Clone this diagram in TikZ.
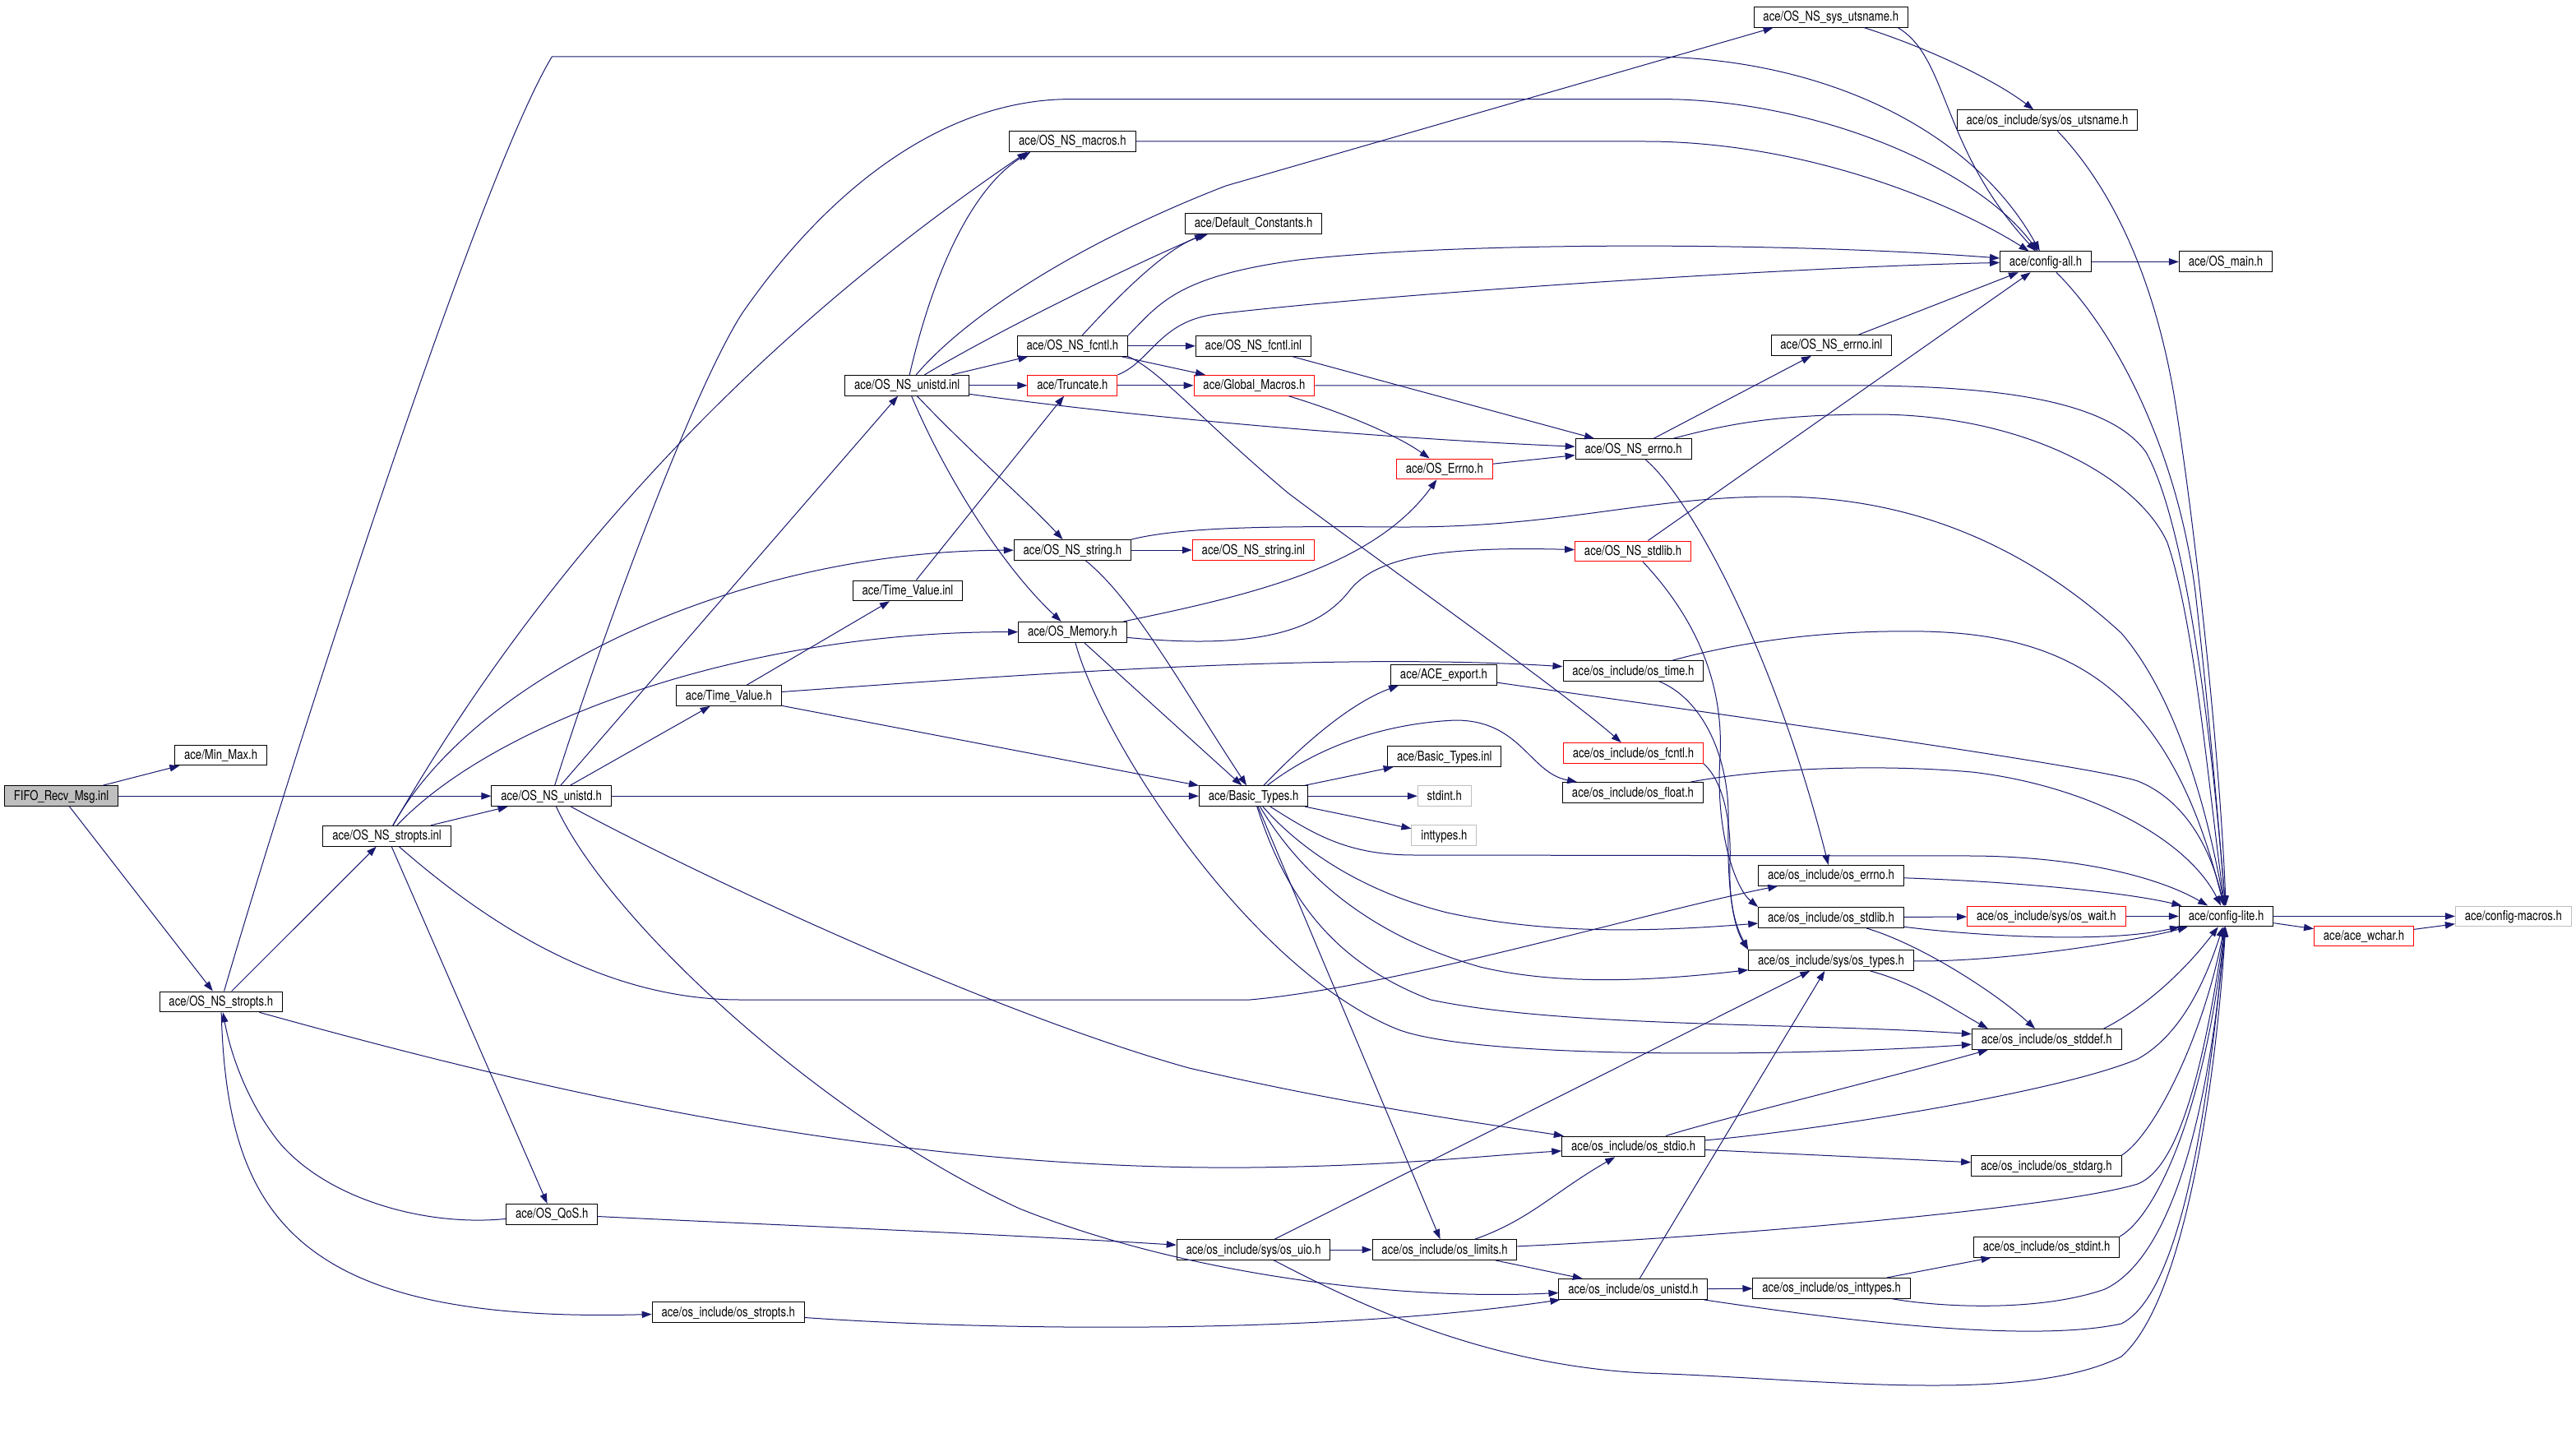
\documentclass[tikz,border=0pt]{standalone}
\usepackage{fontspec}
\usepackage{tikz}
\usetikzlibrary{arrows.meta}
\newfontfamily\doxfont{TeX Gyre Heros}[FakeStretch=0.8]
\def\doxtext{\doxfont\fontsize{8.2}{9}\selectfont}
\definecolor{edgeblue}{HTML}{191970}
\definecolor{extgray}{HTML}{BFBFBF}
\definecolor{rootgray}{HTML}{BFBFBF}
\tikzset{
	hdr/.style={draw=black, fill=white, line width=0.5pt, minimum height=12.4pt, inner xsep=5.7pt, inner ysep=0pt, text height=6.2pt, text depth=1.2pt, font=\doxtext},
	hdrcut/.style={hdr, draw=red},
	hdrext/.style={hdr, draw=extgray},
	hdrroot/.style={hdr, fill=rootgray},
	incl/.style={draw=edgeblue, line width=0.5pt, -{Triangle[length=6pt,width=4.2pt]}}
}

\begin{document}
\begin{tikzpicture}[x=1pt, y=-1pt]
			%%%%% START %%%%%
			\path[use as bounding box, fill=white] (0,0) rectangle (1566.5,874.5);
			
			\node[hdrroot] (fifo) at (37.3,484.1) {FIFO\_Recv\_Msg.inl};
			\node[hdr] (minmax) at (134.3,459.2) {ace/Min\_Max.h};
			\node[hdr] (nsunistdh) at (335.3,484.1) {ace/OS\_NS\_unistd.h};
			\node[hdr] (nsstroptsinl) at (235.3,508.4) {ace/OS\_NS\_stropts.inl};
			\node[hdr] (nsstroptsh) at (134.4,609.2) {ace/OS\_NS\_stropts.h};
			\node[hdr] (qos) at (335.6,738.4) {ace/OS\_QoS.h};
			\node[hdr] (osstropts) at (442.9,798) {ace/os\_include/os\_stropts.h};
			
			\node[hdr] (nsunistdinl) at (551.6,234.4) {ace/OS\_NS\_unistd.inl};
			\node[hdr] (nsmacros) at (652.2,86) {ace/OS\_NS\_macros.h};
			\node[hdr] (defconst) at (762.3,136) {ace/Default\_Constants.h};
			\node[hdr] (nsfcntlh) at (652.2,210.4) {ace/OS\_NS\_fcntl.h};
			\node[hdrcut] (truncate) at (652.2,234.4) {ace/Truncate.h};
			\node[hdr] (nsfcntlinl) at (762.2,210.4) {ace/OS\_NS\_fcntl.inl};
			\node[hdrcut] (globmacros) at (762.7,234.4) {ace/Global\_Macros.h};
			\node[hdr] (tvinl) at (552,359.2) {ace/Time\_Value.inl};
			\node[hdr] (nsstringh) at (652.2,334.5) {ace/OS\_NS\_string.h};
			\node[hdrcut] (nsstringinl) at (762.2,334.5) {ace/OS\_NS\_string.inl};
			\node[hdr] (memory) at (652.2,384.4) {ace/OS\_Memory.h};
			\node[hdr] (tvh) at (443.2,423) {ace/Time\_Value.h};
			\node[hdr] (bth) at (762.3,484.1) {ace/Basic\_Types.h};
			
			\node[hdr] (export) at (878,410.4) {ace/ACE\_export.h};
			\node[hdr] (btinl) at (878.4,460) {ace/Basic\_Types.inl};
			\node[hdrext] (stdint) at (878.4,484.1) {stdint.h};
			\node[hdrext] (inttypes) at (878.2,508) {inttypes.h};
			\node[hdrcut] (oserrno) at (878.4,285.2) {ace/OS\_Errno.h};
			\node[hdr] (nserrnoh) at (993.3,273.1) {ace/OS\_NS\_errno.h};
			\node[hdr] (nserrnoinl) at (1113.7,210) {ace/OS\_NS\_errno.inl};
			\node[hdr] (nsutsname) at (1113.4,10.4) {ace/OS\_NS\_sys\_utsname.h};
			\node[hdr] (osutsname) at (1245,73.2) {ace/os\_include/sys/os\_utsname.h};
			\node[hdr] (configall) at (1244,159.2) {ace/config-all.h};
			\node[hdr] (osmain) at (1353.5,159.2) {ace/OS\_main.h};
			\node[hdrcut] (nsstdlibh) at (993,335.2) {ace/OS\_NS\_stdlib.h};
			\node[hdr] (ostime) at (993.2,408) {ace/os\_include/os\_time.h};
			\node[hdrcut] (osfcntl) at (993.2,458) {ace/os\_include/os\_fcntl.h};
			\node[hdr] (osfloat) at (993,482) {ace/os\_include/os\_float.h};
			
			\node[hdr] (oserrnoh) at (1113.5,532.4) {ace/os\_include/os\_errno.h};
			\node[hdr] (osstdlib) at (1113.5,558) {ace/os\_include/os\_stdlib.h};
			\node[hdr] (ostypes) at (1113.5,584) {ace/os\_include/sys/os\_types.h};
			\node[hdrcut] (oswait) at (1244.4,557.2) {ace/os\_include/sys/os\_wait.h};
			\node[hdr] (configlite) at (1353.8,557.2) {ace/config-lite.h};
			\node[hdrcut] (wchar) at (1437.5,569.2) {ace/ace\_wchar.h};
			\node[hdrext] (configmacros) at (1528.4,557.2) {ace/config-macros.h};
			\node[hdr] (osstddef) at (1244.6,632) {ace/os\_include/os\_stddef.h};
			\node[hdr] (osstdio) at (993.3,697.2) {ace/os\_include/os\_stdio.h};
			\node[hdr] (osstdarg) at (1244.4,709) {ace/os\_include/os\_stdarg.h};
			\node[hdr] (osuio) at (762.3,760) {ace/os\_include/sys/os\_uio.h};
			\node[hdr] (oslimits) at (878.5,760) {ace/os\_include/os\_limits.h};
			\node[hdr] (osunistd) at (993.2,784) {ace/os\_include/os\_unistd.h};
			\node[hdr] (osinttypes) at (1113.8,783.4) {ace/os\_include/os\_inttypes.h};
			\node[hdr] (osstdint) at (1244.5,758.4) {ace/os\_include/os\_stdint.h};
			
			\draw[incl] (fifo) -- (minmax);
			\draw[incl] (fifo) -- (nsunistdh);
			\draw[incl] (fifo) -- (nsstroptsh);
			
			\draw[incl] (nsstroptsh) -- (nsstroptsinl);
			\draw[incl] (nsstroptsh) .. controls (175,470) and (290,110) .. (335.7,34.4) -- (1000,34.4) .. controls (1110,34.4) and (1200,80) .. (configall);
			\draw[incl] (nsstroptsh) .. controls (300,655) and (520,712) .. (760,710) .. controls (850,709) and (900,703) .. (osstdio);
			\draw[incl] (nsstroptsh) .. controls (138,740) and (180,805) .. (osstropts);
			\draw[incl] (qos) .. controls (260,746) and (200,730) .. (170,695) .. controls (150,670) and (140,640) .. (nsstroptsh);
			\draw[incl] (qos) .. controls (450,744) and (600,750) .. (osuio);
			
			\draw[incl] (nsstroptsinl) -- (nsunistdh);
			\draw[incl] (nsstroptsinl) -- (qos);
			\draw[incl] (nsstroptsinl) .. controls (300,565) and (370,608) .. (450,608) -- (760,608) .. controls (850,600) and (1000,555) .. (oserrnoh);
			\draw[incl] (nsstroptsinl) .. controls (331.7,340.7) and (460.3,204.1) .. ([xshift=11pt]nsmacros.south west);
			\draw[incl] (nsstroptsinl) .. controls (290,410) and (450,335) .. (nsstringh);
			\draw[incl] (nsstroptsinl) .. controls (300,440) and (450,384) .. (memory);
			
			\draw[incl] (nsunistdh) -- (nsunistdinl);
			\draw[incl] (nsunistdh) -- (tvh);
			\draw[incl] (nsunistdh) -- (bth);
			\draw[incl] (nsunistdh) .. controls (365,390) and (420,240) .. (451,191) .. controls (500,120) and (570,60.3) .. (651.3,60.3) -- (1010,60.3) .. controls (1100,60.3) and (1200,100) .. (configall);
			\draw[incl] (nsunistdh) .. controls (420,530) and (600,615) .. (723,649.5) .. controls (820,672) and (900,683) .. (osstdio);
			\draw[incl] (nsunistdh) .. controls (370,560) and (500,680) .. (620,735) .. controls (720,775) and (850,791) .. (osunistd);
			
			\draw[incl] (nsunistdinl) .. controls (569.6,156.6) and (594.9,111.4) .. ([xshift=13pt]nsmacros.south west);
			\draw[incl] (nsunistdinl) .. controls (600,205) and (680,165) .. ([xshift=12pt]defconst.south west);
			\draw[incl] (nsunistdinl) .. controls (585,195) and (650,150) .. (745.5,113) -- ([xshift=12pt]nsutsname.south west);
			\draw[incl] (nsunistdinl) -- (nsfcntlh);
			\draw[incl] (nsunistdinl) -- (truncate);
			\draw[incl] (nsunistdinl) .. controls (700,255) and (850,267) .. (nserrnoh);
			\draw[incl] (nsunistdinl) .. controls (575,290) and (610,345) .. (memory);
			\draw[incl] (nsunistdinl) .. controls (590,275) and (625,305) .. (nsstringh);
			
			\draw[incl] (nsmacros) -- (1000,86) .. controls (1100,86) and (1190,125) .. (configall);
			\draw[incl] (nsfcntlh) .. controls (680,180) and (710,150) .. ([xshift=14pt]defconst.south west);
			\draw[incl] (nsfcntlh) -- (nsfcntlinl);
			\draw[incl] (nsfcntlh) -- (globmacros);
			\draw[incl] (nsfcntlh.north east) .. controls (705,185) and (715,168) .. (790,158) .. controls (900,146) and (1100,148) .. (configall);
			\draw[incl] (nsfcntlh.south east) .. controls (705,225) and (730,255) .. (783.5,300) .. controls (830,335) and (950,420) .. (osfcntl);
			\draw[incl] (truncate) -- (globmacros);
			\draw[incl] (truncate.north east) .. controls (700,220) and (705,195) .. (740,191) .. controls (850,178) and (1100,162) .. (configall);
			\draw[incl] (globmacros) .. controls (820,252) and (850,265) .. (oserrno);
			\draw[incl] (globmacros) -- (1120,234.4) .. controls (1200,234.4) and (1280,240) .. (1305,275) .. controls (1330,320) and (1345,450) .. (configlite);
			\draw[incl] (nsfcntlinl) -- (nserrnoh);
			\draw[incl] (oserrno) -- (nserrnoh);
			
			\draw[incl] (nserrnoh) -- (nserrnoinl);
			\draw[incl] (nserrnoh) .. controls (1050,258) and (1080,252) .. (1140,252) .. controls (1230,252) and (1300,290) .. (1318,330) .. controls (1335,380) and (1343,480) .. (configlite);
			\draw[incl] (nserrnoh) .. controls (1030,305) and (1080,400) .. (oserrnoh);
			\draw[incl] (nserrnoinl) -- (configall);
			\draw[incl] (nsutsname.-9) .. controls (1185,35) and (1180,90) .. (configall);
			\draw[incl] (nsutsname) .. controls (1175,30) and (1215,50) .. (osutsname);
			\draw[incl] (osutsname) .. controls (1285,115) and (1310,170) .. (1322,240) .. controls (1335,320) and (1350,460) .. (configlite);
			\draw[incl] (configall) -- (osmain);
			\draw[incl] (configall) .. controls (1290,205) and (1325,280) .. (1335,360) .. controls (1343,430) and (1349,500) .. (configlite);
			
			\draw[incl] (nsstringh) -- (nsstringinl);
			\draw[incl] (nsstringh) .. controls (690,365) and (720,420) .. (bth);
			\draw[incl] (nsstringh.north east) .. controls (720,320) and (780,320) .. (850,320.5) .. controls (950,321) and (1000,302) .. (1080,302) .. controls (1160,302) and (1230,330) .. (1290,385) .. controls (1320,420) and (1340,480) .. (configlite);
			\draw[incl] (memory) .. controls (760,362) and (835,345) .. (oserrno);
			\draw[incl] (memory) .. controls (760,395) and (800,385) .. (820,360) .. controls (835,340) and (870,332) .. (nsstdlibh);
			\draw[incl] (memory) -- (bth);
			\draw[incl] (memory) .. controls (670,450) and (760,590) .. (850,626) .. controls (900,645) and (1100,642) .. (osstddef);
			\draw[incl] (tvh) -- (tvinl);
			\draw[incl] (tvh) .. controls (600,412) and (800,396) .. (ostime);
			\draw[incl] (tvh) -- (bth);
			\draw[incl] (tvinl) -- (truncate);
			
			\draw[incl] (bth) .. controls (790,455) and (820,428) .. ([xshift=5pt]export.south west);
			\draw[incl] (bth) -- (btinl);
			\draw[incl] (bth) -- (stdint);
			\draw[incl] (bth) -- (inttypes);
			\draw[incl] (bth) .. controls (800,455) and (840,440) .. (885,438) .. controls (925,438) and (930,470) .. ([xshift=9pt]osfloat.north west);
			\draw[incl] (bth) .. controls (800,508) and (820,520) .. (860,520) -- (1200,520.5) .. controls (1260,521) and (1310,532) .. (configlite);
			\draw[incl] (bth) .. controls (785,510) and (820,540) .. (880,555) .. controls (940,568) and (1000,567) .. (osstdlib);
			\draw[incl] (bth) .. controls (790,530) and (830,568) .. (900,588) .. controls (950,600) and (1010,596) .. (ostypes);
			\draw[incl] (bth) .. controls (782,545) and (810,585) .. (870,608) .. controls (950,625) and (1100,622) .. (osstddef);
			\draw[incl] (bth) -- (oslimits);
			
			\draw[incl] (nsstdlibh) -- (configall);
			\draw[incl] (nsstdlibh) .. controls (1035,380) and (1048,420) .. (1046,460) .. controls (1043,505) and (1055,540) .. (osstdlib.north west);
			\draw[incl] (ostime) .. controls (1035,425) and (1052,460) .. (1051,500) .. controls (1050,545) and (1055,565) .. (ostypes.north west);
			\draw[incl] (ostime) .. controls (1060,390) and (1110,383) .. (1170,384) .. controls (1260,386) and (1320,420) .. (configlite);
			\draw[incl] (osfcntl.south east) .. controls (1048,475) and (1053,500) .. (1052,525) .. controls (1051,555) and (1058,568) .. (ostypes.north west);
			\draw[incl] (export) .. controls (1000,428) and (1270,465) .. (1300,475) .. controls (1325,485) and (1343,510) .. (configlite);
			\draw[incl] (osfloat) .. controls (1080,466) and (1150,465) .. (1200,469.6) .. controls (1270,478) and (1330,510) .. (configlite);
			
			\draw[incl] (oserrnoh) .. controls (1220,536) and (1290,542) .. (configlite);
			\draw[incl] (osstdlib) -- (oswait);
			\draw[incl] (osstdlib) .. controls (1200,569) and (1280,574) .. (configlite);
			\draw[incl] (osstdlib) .. controls (1170,575) and (1215,605) .. (osstddef);
			\draw[incl] (oswait) -- (configlite);
			\draw[incl] (ostypes) .. controls (1220,585) and (1300,572) .. (configlite);
			\draw[incl] (ostypes) .. controls (1165,598) and (1185,612) .. ([xshift=10pt]osstddef.north west);
			\draw[incl] ([xshift=-11pt]osstddef.north east) .. controls (1300,615) and (1325,595) .. (configlite);
			\draw[incl] (configlite) -- (configmacros);
			\draw[incl] (configlite) -- (wchar);
			\draw[incl] (wchar) -- (configmacros);
			
			\draw[incl] (osstdio) .. controls (1040,682) and (1150,655) .. ([xshift=10pt]osstddef.south west);
			\draw[incl] (osstdio) .. controls (1100,688) and (1250,665) .. (1300,644) .. controls (1325,630) and (1340,600) .. (configlite);
			\draw[incl] (osstdio) -- (osstdarg);
			\draw[incl] (osstdarg.north east) .. controls (1310,690) and (1340,630) .. (configlite);
			\draw[incl] (osuio) -- (oslimits);
			\draw[incl] (osuio) -- (ostypes);
			\draw[incl] (osuio) .. controls (820,790) and (900,830) .. (1000,835) .. controls (1100,838) and (1230,855) .. (1290,825) .. controls (1330,790) and (1348,650) .. (configlite);
			\draw[incl] (oslimits) .. controls (930,742) and (945,725) .. (osstdio);
			\draw[incl] (oslimits) .. controls (1050,752) and (1250,735) .. (1300,720) .. controls (1325,710) and (1340,650) .. (configlite);
			\draw[incl] (oslimits) -- (osunistd);
			\draw[incl] (osstropts) .. controls (600,809) and (800,812) .. (osunistd);
			\draw[incl] (osunistd) -- (ostypes);
			\draw[incl] (osunistd) -- (osinttypes);
			\draw[incl] (osunistd) .. controls (1100,800) and (1230,818) .. (1290,805) .. controls (1330,785) and (1345,650) .. (configlite);
			\draw[incl] (osinttypes) -- (osstdint);
			\draw[incl] (osinttypes) .. controls (1180,795) and (1240,798) .. (1280,784) .. controls (1320,765) and (1343,680) .. (configlite);
			\draw[incl] (osstdint.north east) .. controls (1310,740) and (1340,680) .. (configlite);
			
			%%%%% END %%%%%
\end{tikzpicture}
\end{document}
